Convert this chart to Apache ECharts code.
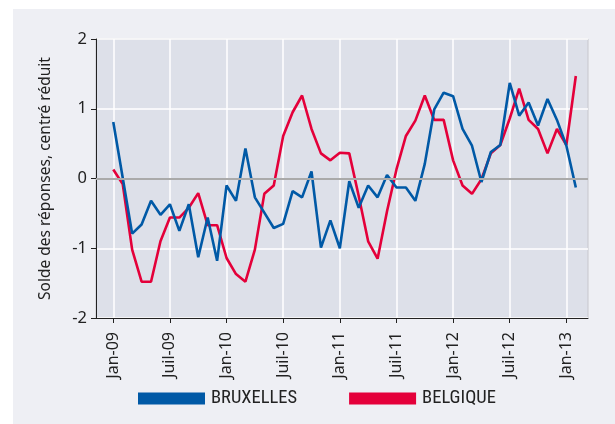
<!DOCTYPE html>
<html><head><meta charset="utf-8">
<script src="https://cdn.jsdelivr.net/npm/echarts@6/dist/echarts.min.js"></script>
<style>html,body{margin:0;padding:0;background:#fff}#c{width:615px;height:424px}</style>
</head><body><div id="c"></div>
<script>
// Monthly values, Jan-09 (index 0) to Feb-13 (index 49)
const bruxelles = [0.81,0.01,-0.79,-0.66,-0.32,-0.52,-0.37,-0.75,-0.37,-1.13,-0.56,-1.18,
  -0.10,-0.32,0.43,-0.27,-0.49,-0.71,-0.65,-0.18,-0.27,0.10,-0.99,-0.60,
  -1.00,-0.04,-0.42,-0.10,-0.27,0.05,-0.13,-0.13,-0.32,0.21,0.99,1.23,
  1.18,0.71,0.47,-0.05,0.38,0.48,1.37,0.90,1.09,0.76,1.14,0.84,
  0.47,-0.13];
const belgique = [0.13,-0.08,-1.02,-1.48,-1.48,-0.90,-0.56,-0.56,-0.42,-0.21,-0.67,-0.67,
  -1.14,-1.37,-1.48,-1.02,-0.22,-0.10,0.61,0.95,1.19,0.71,0.36,0.26,
  0.37,0.36,-0.25,-0.90,-1.15,-0.47,0.13,0.61,0.83,1.19,0.84,0.84,
  0.26,-0.10,-0.22,-0.01,0.36,0.48,0.86,1.29,0.84,0.71,0.36,0.71,
  0.48,1.47];
const tickMonths = [0,6,12,18,24,30,36,42,48];
const tickLabels = ['Jan-09','Juil-09','Jan-10','Juil-10','Jan-11','Juil-11','Jan-12','Juil-12','Jan-13'];
const seriesNames = ['BRUXELLES','BELGIQUE'];

const toPairs = arr => arr.map((v,i)=>[i,v]);
const labelFor = v => { const k = tickMonths.indexOf(Math.round(v)); return k>=0 ? tickLabels[k] : ''; };

const chart = echarts.init(document.getElementById('c'), null, {renderer:'canvas'});
const font = '"Noto Sans", sans-serif';
chart.setOption({
  animation:false,
  backgroundColor:'#ffffff',
  graphic:[{type:'rect', z:-10, shape:{x:13,y:9,width:602,height:415}, style:{fill:'#eeeff4'}}],
  grid:{left:96, top:39, width:492, height:279, show:true, backgroundColor:'#dde0e9', borderColor:'#c6c7cc', borderWidth:1},
  legend:{
    data:seriesNames, bottom:11, left:133, icon:'rect', itemWidth:67, itemHeight:12, itemGap:52,
    textStyle:{fontFamily:'"Liberation Sans Narrow", "Roboto Condensed", "DejaVu Sans Condensed", sans-serif', fontSize:18.5, color:'#222', padding:[0,0,0,1]}
  },
  xAxis:{
    type:'value', min:-1.83, max:50.29,
    axisLine:{show:true, onZero:false, lineStyle:{color:'#222', width:1}},
    axisTick:{show:true, length:5, customValues:tickMonths, lineStyle:{color:'#222'}},
    axisLabel:{customValues:tickMonths, rotate:90, margin:14, formatter:labelFor, fontFamily:font, fontSize:16, color:'#222'},
    splitLine:{show:true, lineStyle:{color:'#ffffff', width:1.5}}
  },
  yAxis:{
    type:'value', min:-2, max:2, interval:1,
    name:'Solde des réponses, centré réduit', nameLocation:'middle', nameRotate:90, nameGap:42,
    nameTextStyle:{fontFamily:font, fontSize:15.5, color:'#222'},
    axisLine:{show:true, onZero:false, lineStyle:{color:'#222', width:1}},
    axisTick:{show:true, length:5, lineStyle:{color:'#222'}},
    axisLabel:{margin:9, fontFamily:font, fontSize:16.5, color:'#222'},
    splitLine:{show:true, lineStyle:{color:'#ffffff', width:1.5}}
  },
  series:[
    {type:'line', name:'_grid', data:[], z:1, silent:true,
     markLine:{silent:true, symbol:['none','none'], label:{show:false}, animation:false,
       lineStyle:{color:'#aaaaaa', width:2, type:'solid'},
       data:[{yAxis:0}]
     }},
    {type:'line', name:seriesNames[1], data:toPairs(belgique), z:3, showSymbol:false, symbol:'none',
     lineStyle:{color:'#e4003a', width:2.6}, itemStyle:{color:'#e4003a'}},
    {type:'line', name:seriesNames[0], data:toPairs(bruxelles), z:4, showSymbol:false, symbol:'none',
     lineStyle:{color:'#0059a6', width:2.6}, itemStyle:{color:'#0059a6'}}
  ]
});
</script></body></html>
